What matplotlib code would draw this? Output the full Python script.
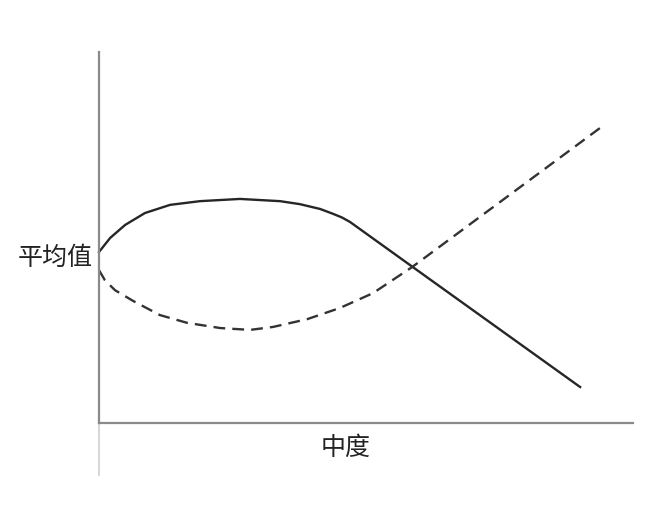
import matplotlib
matplotlib.use("Agg")
import matplotlib.pyplot as plt

plt.rcParams["font.family"] = ["Noto Sans CJK SC", "DejaVu Sans"]

# values (arbitrary units, no ticks on the original)
solid_x = [0, 2.1, 4.9, 8.6, 13.3, 18.9, 26.4, 33.9, 37.6, 41.4, 43.8, 45.5, 47.0, 58.8, 90.1]
solid_y = [46.1, 49.9, 53.4, 56.6, 58.8, 59.8, 60.4, 59.8, 59.0, 57.7, 56.4, 55.4, 54.2, 42.0, 9.7]

dashed_x = [0, 1.1, 3.0, 6.4, 11.4, 16.5, 22.7, 28.3, 32.6, 39.0, 45.1, 51.3, 58.6, 93.8]
dashed_y = [41.2, 38.5, 35.8, 32.9, 29.1, 27.0, 25.6, 25.1, 25.9, 28.0, 31.0, 35.0, 42.0, 79.5]

ylabel = "平均值"
xlabel = "中度"

fig = plt.figure(figsize=(6.6, 5.13), dpi=100)
ax = fig.add_axes([0.15, 0.1754, 0.8091, 0.7232])

ax.plot(solid_x, solid_y, "-", color="#262626", lw=1.7,
        solid_joinstyle="round", clip_on=False)
ax.plot(dashed_x, dashed_y, "--", color="#333333", lw=1.7, dashes=(5.0, 3.0),
        dash_joinstyle="round", clip_on=False)

ax.set_xlim(0, 100)
ax.set_ylim(0, 100)
ax.set_xticks([])
ax.set_yticks([])

for s in ["top", "right"]:
    ax.spines[s].set_visible(False)
for s in ["left", "bottom"]:
    ax.spines[s].set_color("#8a8a8a")
    ax.spines[s].set_linewidth(1.6)

# faint continuation of the y axis below the x axis
ax.plot([0, 0], [0, -0.14], color="#d0d0d0", lw=1.2, transform=ax.transAxes, clip_on=False)

ax.set_ylabel(ylabel, rotation=0, fontsize=18, color="#222222", ha="right", va="center")
ax.yaxis.set_label_coords(-0.012, 0.445)
ax.set_xlabel(xlabel, fontsize=18, color="#222222", ha="center", va="center")
ax.xaxis.set_label_coords(0.461, -0.068)

fig.savefig("out.png", dpi=100)
